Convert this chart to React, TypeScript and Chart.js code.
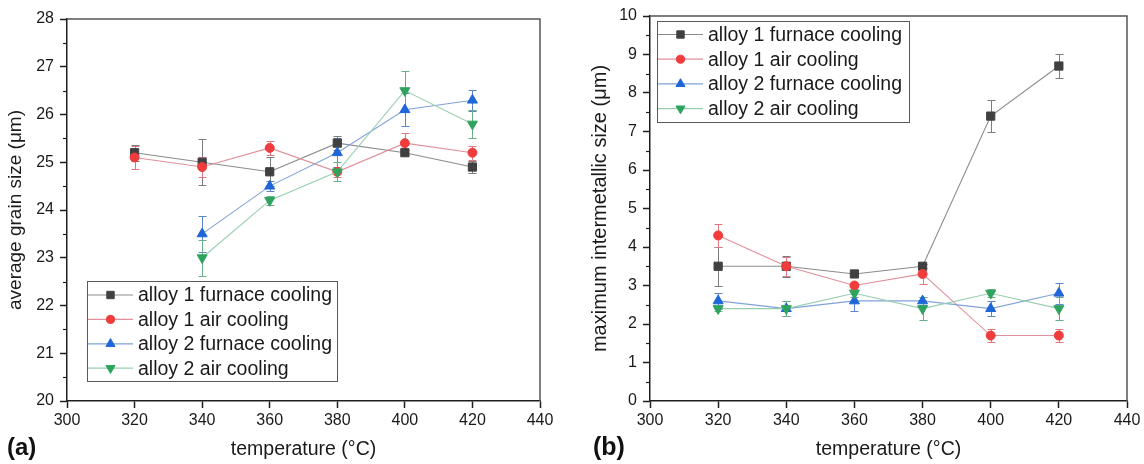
import React, { useEffect, useRef } from 'react';
import { Chart, registerables } from 'chart.js';
import { drawPoint } from 'chart.js/helpers';

Chart.register(...registerables);
Chart.defaults.font.family = '"Liberation Sans", Arial, sans-serif';

// ---------- data ----------
const temperatures = [320, 340, 360, 380, 400, 420];
const seriesNames = [
  'alloy 1 furnace cooling',
  'alloy 1 air cooling',
  'alloy 2 furnace cooling',
  'alloy 2 air cooling',
];

// (a) average grain size (µm)
const grainAlloy1Furnace = [25.2, 25.0, 24.8, 25.4, 25.2, 24.9];
const grainAlloy1FurnaceErr = [0.17, 0.48, 0.3, 0.15, 0.05, 0.12];
const grainAlloy1Air = [25.1, 24.9, 25.3, 24.8, 25.4, 25.2];
const grainAlloy1AirErr = [0.24, 0.2, 0.15, 0.1, 0.22, 0.15];
const grainAlloy2Furnace = [null, 23.5, 24.5, 25.2, 26.1, 26.3];
const grainAlloy2FurnaceErr = [0, 0.38, 0.1, 0.3, 0.35, 0.22];
const grainAlloy2Air = [null, 23.0, 24.2, 24.8, 26.5, 25.8];
const grainAlloy2AirErr = [0, 0.38, 0.1, 0.2, 0.42, 0.3];

// (b) maximum intermetallic size (µm)
const interAlloy1Furnace = [3.5, 3.5, 3.3, 3.5, 7.4, 8.7];
const interAlloy1FurnaceErr = [0.5, 0.27, 0.07, 0.05, 0.42, 0.3];
const interAlloy1Air = [4.3, 3.5, 3.0, 3.3, 1.7, 1.7];
const interAlloy1AirErr = [0.3, 0.25, 0.05, 0.25, 0.18, 0.18];
const interAlloy2Furnace = [2.6, 2.4, 2.6, 2.6, 2.4, 2.8];
const interAlloy2FurnaceErr = [0.2, 0.2, 0.25, 0.1, 0.2, 0.27];
const interAlloy2Air = [2.4, 2.4, 2.8, 2.4, 2.8, 2.4];
const interAlloy2AirErr = [0.05, 0.2, 0.1, 0.3, 0.1, 0.3];

const xMin = 300;
const xMax = 440;
const xStep = 20;
const grainYMin = 20;
const grainYMax = 28;
const interYMin = 0;
const interYMax = 10;

// ---------- styles ----------
const seriesStyles = [
  { marker: '#404040', line: '#8c8c8c', err: '#7c7c7c', pointStyle: 'rect', radius: 5.8, rotation: 0 },
  { marker: '#f03c3c', line: '#e0909a', err: '#e07884', pointStyle: 'circle', radius: 4.5, rotation: 0 },
  { marker: '#1f66d8', line: '#80a2d8', err: '#5b86cc', pointStyle: 'triangle', radius: 5.8, rotation: 0 },
  { marker: '#2ea35e', line: '#98ceb0', err: '#6aae88', pointStyle: 'triangle', radius: 5.8, rotation: 180 },
];

const AXIS_COLOR = '#1e1e1e';
const FRAME_COLOR = '#555555';
const TEXT_COLOR = '#1a1a1a';

// ---------- plugins ----------
const errorBarPlugin = {
  id: 'errorBars',
  beforeDatasetsDraw(chart: any) {
    const { ctx } = chart;
    const xs = chart.scales.x;
    const ys = chart.scales.y;
    ctx.save();
    chart.data.datasets.forEach((ds: any) => {
      if (!ds.errors) return;
      ctx.strokeStyle = ds.errorColor;
      ctx.lineWidth = 1;
      ds.data.forEach((pt: any) => {
        const e = pt.err;
        if (!e) return;
        const px = Math.round(xs.getPixelForValue(pt.x)) + 0.5;
        const top = Math.round(ys.getPixelForValue(pt.y + e)) + 0.5;
        const bot = Math.round(ys.getPixelForValue(pt.y - e)) + 0.5;
        ctx.beginPath();
        ctx.moveTo(px, top);
        ctx.lineTo(px, bot);
        ctx.moveTo(px - 4, top);
        ctx.lineTo(px + 4, top);
        ctx.moveTo(px - 4, bot);
        ctx.lineTo(px + 4, bot);
        ctx.stroke();
      });
    });
    ctx.restore();
  },
};

const framePlugin = {
  id: 'frameAndExtras',
  afterDraw(chart: any) {
    const { ctx, chartArea } = chart;
    const opts = chart.options.plugins.frameAndExtras;
    const { left, right, top, bottom } = chartArea;
    ctx.save();
    // top & right border
    ctx.strokeStyle = FRAME_COLOR;
    ctx.lineWidth = 1.5;
    ctx.beginPath();
    ctx.moveTo(left, top);
    ctx.lineTo(right, top);
    ctx.lineTo(right, bottom);
    ctx.stroke();
    // minor y ticks
    const ys = chart.scales.y;
    ctx.strokeStyle = AXIS_COLOR;
    ctx.lineWidth = 1.2;
    for (let v = ys.min + 0.5; v < ys.max; v += 1) {
      const py = Math.round(ys.getPixelForValue(v)) + 0.5;
      ctx.beginPath();
      ctx.moveTo(left - 4, py);
      ctx.lineTo(left, py);
      ctx.stroke();
    }
    // panel label
    ctx.fillStyle = '#111';
    ctx.font = 'bold ' + opts.labelSize + 'px "Liberation Sans", Arial, sans-serif';
    ctx.textBaseline = 'middle';
    ctx.textAlign = 'left';
    ctx.fillText(opts.label, opts.labelX, opts.labelY);

    // legend
    const lg = opts.legend;
    ctx.fillStyle = '#ffffff';
    ctx.fillRect(lg.left, lg.top, lg.width, lg.height);
    ctx.strokeStyle = '#5a5a5a';
    ctx.lineWidth = 1;
    ctx.strokeRect(lg.left + 0.5, lg.top + 0.5, lg.width, lg.height);
    chart.data.datasets.forEach((ds: any, i: number) => {
      const st = seriesStyles[i];
      const cy = lg.top + lg.rowStart + i * lg.rowH;
      ctx.strokeStyle = st.line;
      ctx.lineWidth = 1.2;
      ctx.beginPath();
      ctx.moveTo(lg.left + 1, cy);
      ctx.lineTo(lg.left + 46, cy);
      ctx.stroke();
      ctx.fillStyle = st.marker;
      ctx.strokeStyle = st.marker;
      ctx.lineWidth = 1;
      drawPoint(ctx, { pointStyle: st.pointStyle, radius: st.radius * 0.9, rotation: st.rotation, borderWidth: 1 } as any, lg.left + 23.5, cy);
      ctx.fillStyle = TEXT_COLOR;
      ctx.font = lg.fontSize + 'px "Liberation Sans", Arial, sans-serif';
      ctx.textAlign = 'left';
      ctx.textBaseline = 'middle';
      ctx.fillText(ds.label, lg.left + 51, cy + 1);
    });
    ctx.restore();
  },
};

// ---------- config ----------
function buildDatasets(values: (number | null)[][], errors: number[][]) {
  return values.map((vals, si) => {
    const st = seriesStyles[si];
    const data = temperatures
      .map((t, i) => ({ x: t, y: vals[i], err: errors[si][i] }))
      .filter((p) => p.y !== null);
    return {
      label: seriesNames[si],
      data,
      errors: errors[si],
      errorColor: st.err,
      showLine: true,
      borderColor: st.line,
      borderWidth: 1.1,
      backgroundColor: st.marker,
      pointBackgroundColor: st.marker,
      pointBorderColor: st.marker,
      pointBorderWidth: 1,
      pointStyle: st.pointStyle,
      pointRadius: st.radius,
      pointRotation: st.rotation,
      tension: 0,
      order: 3 - si,
    };
  });
}

function makeConfig(p: any) {
  return {
    type: 'scatter',
    data: { datasets: buildDatasets(p.values, p.errors) },
    plugins: [errorBarPlugin, framePlugin],
    options: {
      responsive: false,
      animation: false,
      events: [],
      layout: { padding: { left: 0, top: p.padTop, right: p.padRight, bottom: 0 } },
      plugins: {
        legend: { display: false },
        tooltip: { enabled: false },
        frameAndExtras: p.extras,
      },
      scales: {
        x: {
          type: 'linear',
          min: xMin,
          max: xMax,
          ticks: {
            stepSize: xStep,
            color: TEXT_COLOR,
            font: { size: 16 },
            padding: 3,
            maxRotation: 0,
          },
          grid: { display: true, drawOnChartArea: false, drawTicks: true, tickLength: 7, tickColor: AXIS_COLOR, tickWidth: 1.5 },
          border: { display: true, color: AXIS_COLOR, width: 1.5 },
          title: {
            display: true,
            text: 'temperature (°C)',
            color: TEXT_COLOR,
            font: { size: 19.5 },
            padding: { top: 0, bottom: 3 },
          },
          afterFit(scale: any) {
            scale.height = p.xAxisHeight;
          },
        },
        y: {
          type: 'linear',
          min: p.yMin,
          max: p.yMax,
          ticks: {
            stepSize: 1,
            color: TEXT_COLOR,
            font: { size: 16 },
            padding: 6,
          },
          grid: { display: true, drawOnChartArea: false, drawTicks: true, tickLength: 7, tickColor: AXIS_COLOR, tickWidth: 1.5 },
          border: { display: true, color: AXIS_COLOR, width: 1.5 },
          title: {
            display: true,
            text: p.yTitle,
            color: TEXT_COLOR,
            font: { size: p.yTitleSize },
            padding: { top: p.yTitlePad, bottom: 0 },
          },
          afterFit(scale: any) {
            scale.width = p.yAxisWidth;
          },
        },
      },
    },
  };
}

function Panel(props: { left: number; config: any }) {
  const ref = useRef<HTMLCanvasElement | null>(null);
  useEffect(() => {
    if (!ref.current) return;
    const chart = new Chart(ref.current, props.config);
    return () => chart.destroy();
  }, []);
  return (
    <canvas
      ref={ref}
      width={572}
      height={464}
      style={{ position: 'absolute', left: props.left, top: 0, width: 572, height: 464 }}
    />
  );
}

const configA = makeConfig({
  values: [grainAlloy1Furnace, grainAlloy1Air, grainAlloy2Furnace, grainAlloy2Air],
  errors: [grainAlloy1FurnaceErr, grainAlloy1AirErr, grainAlloy2FurnaceErr, grainAlloy2AirErr],
  yMin: grainYMin,
  yMax: grainYMax,
  yTitle: 'average grain size (μm)',
  yTitleSize: 19,
  yTitlePad: 4,
  yAxisWidth: 67,
  xAxisHeight: 63,
  padTop: 19,
  padRight: 32,
  extras: {
    label: '(a)',
    labelSize: 24,
    labelX: 7,
    labelY: 448,
    legend: { left: 87, top: 281, width: 250, height: 100, rowStart: 14, rowH: 24.4, fontSize: 19.5 },
  },
});

const configB = makeConfig({
  values: [interAlloy1Furnace, interAlloy1Air, interAlloy2Furnace, interAlloy2Air],
  errors: [interAlloy1FurnaceErr, interAlloy1AirErr, interAlloy2FurnaceErr, interAlloy2AirErr],
  yMin: interYMin,
  yMax: interYMax,
  yTitle: 'maximum intermetallic size (μm)',
  yTitleSize: 20,
  yTitlePad: 16,
  yAxisWidth: 78,
  xAxisHeight: 63,
  padTop: 16,
  padRight: 17,
  extras: {
    label: '(b)',
    labelSize: 25,
    labelX: 21,
    labelY: 448,
    legend: { left: 85, top: 21, width: 252, height: 101, rowStart: 13.5, rowH: 24.7, fontSize: 19.5 },
  },
});

export default function App() {
  return (
    <div style={{ position: 'absolute', left: 0, top: 0, width: 1144, height: 464, background: '#ffffff' }}>
      <Panel left={0} config={configA} />
      <Panel left={572} config={configB} />
    </div>
  );
}
